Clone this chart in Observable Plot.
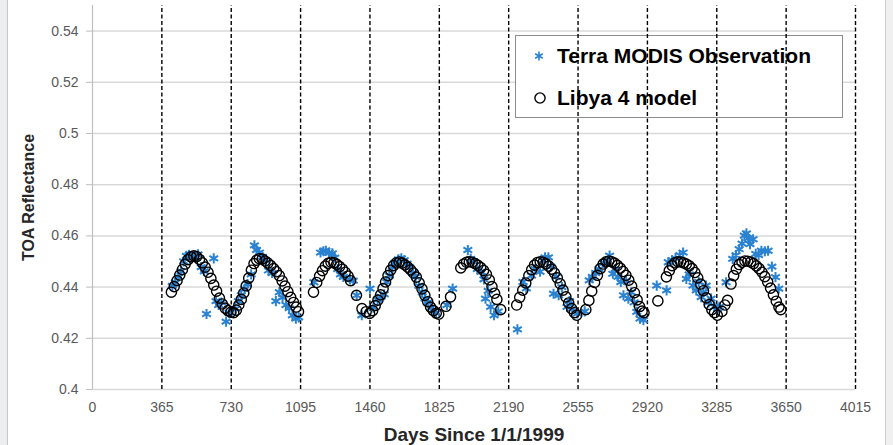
<!DOCTYPE html>
<html><head><meta charset="utf-8">
<script src="https://cdn.jsdelivr.net/npm/d3@7"></script>
<script src="https://cdn.jsdelivr.net/npm/@observablehq/plot@0.6"></script>
<style>
body{margin:0;background:#fff;}
#wrap{position:relative;width:893px;height:445px;overflow:hidden;background:#fff;}
#wrap svg{position:absolute;left:0;top:0;}
.bl{position:absolute;left:0;top:0;width:7px;height:445px;background:#eceef0;border-right:1px solid #c8c8c8;}
.br{position:absolute;left:885px;top:0;width:8px;height:445px;background:#f0f0f0;border-left:1px solid #cfcfcf;}
</style></head>
<body><div id="wrap"><div class="bl"></div><div class="br"></div></div>
<script>
const xTicks = [0,365,730,1095,1460,1825,2190,2555,2920,3285,3650,4015];
const yTicks = [0.4,0.42,0.44,0.46,0.48,0.5,0.52,0.54];
const seriesNames = ["Terra MODIS Observation","Libya 4 model"];
const xTitle = "Days Since 1/1/1999";
const yTitle = "TOA Reflectance";

const modelDays = [
 415,430,445,459,473,488,503,518,533,548,563,578,593,608,623,638,653,668,683,698,713,728,743,757,770,783,796,809,822,836,850,864,878,893,908,923,938,953,968,983,998,1013,1028,1043,1058,1072,1084,
 1163,1180,1195,1210,1225,1240,1255,1270,1285,1300,1315,1330,1345,1358,1389,1418,1440,1458,1474,1488,1502,1516,1529,1542,1555,1569,1584,1599,1614,1629,1644,1659,1674,1689,1704,1719,1734,1749,1764,1779,1794,1809,1822,
 1860,1884,1938,1953,1968,1983,1998,2013,2028,2043,2058,2073,2088,2102,2116,2128,2148,
 2232,2248,2264,2280,2296,2311,2326,2341,2356,2371,2386,2401,2416,2431,2446,2461,2476,2491,2506,2521,2536,2548,
 2596,2612,2627,2642,2657,2672,2687,2702,2717,2732,2747,2762,2777,2792,2807,2822,2837,2852,2866,2879,2892,2902,
 2975,3020,3035,3050,3065,3080,3095,3110,3125,3140,3155,3170,3185,3200,3215,3230,3245,3259,3273,3288,
 3312,3328,3342,3360,3374,3388,3403,3418,3433,3448,3463,3478,3493,3508,3523,3538,3553,3568,3583,3598,3612,3622];
const modelValues = [
 .4380,.4402,.4425,.4447,.4468,.4490,.4507,.4518,.4522,.4519,.4508,.4495,.4478,.4458,.4434,.4408,.4384,.4357,.4334,.4318,.4308,.4302,.4300,.4310,.4330,.4352,.4377,.4405,.4435,.4466,.4492,.4505,.4511,.4510,.4502,.4494,.4484,.4472,.4460,.4445,.4424,.4404,.4382,.4360,.4340,.4322,.4304,
 .4380,.4418,.4443,.4464,.4482,.4493,.4497,.4495,.4489,.4480,.4470,.4458,.4443,.4425,.4368,.4316,.4304,.4297,.4308,.4328,.4349,.4370,.4394,.4420,.4445,.4466,.4484,.4495,.4498,.4494,.4487,.4478,.4467,.4455,.4439,.4417,.4393,.4368,.4343,.4322,.4308,.4298,.4294,
 .4325,.4362,.4475,.4490,.4497,.4499,.4497,.4492,.4485,.4476,.4465,.4450,.4428,.4402,.4376,.4352,.4312,
 .4330,.4360,.4388,.4416,.4445,.4468,.4486,.4496,.4499,.4497,.4491,.4482,.4470,.4455,.4436,.4413,.4388,.4362,.4338,.4316,.4300,.4290,
 .4312,.4348,.4384,.4418,.4446,.4472,.4490,.4499,.4502,.4499,.4494,.4485,.4474,.4461,.4446,.4427,.4404,.4378,.4350,.4324,.4306,.4300,
 .4346,.4440,.4464,.4484,.4495,.4499,.4498,.4495,.4490,.4483,.4472,.4457,.4436,.4412,.4386,.4358,.4332,.4312,.4300,.4290,
 .4305,.4330,.4348,.4412,.4445,.4470,.4488,.4497,.4502,.4501,.4498,.4492,.4483,.4472,.4458,.4441,.4420,.4396,.4370,.4345,.4322,.4312];

const modisDays = [
 420,436,452,466,480,494,508,522,540,555,572,588,600,638,650,664,678,703,718,
 752,768,783,800,815,835,852,863,878,895,910,926,945,965,983,1000,1018,1035,1052,1070,1085,
 1165,1200,1215,1228,1245,1262,1275,1290,1305,1320,1355,1372,1390,1417,1460,1478,1500,1518,1535,1548,1562,1578,1592,1610,1625,1640,1655,1668,1685,1700,1718,1735,1750,1765,1780,1792,1808,
 1865,1895,1975,1990,2005,2025,2045,2060,2068,2082,2095,2113,2135,
 2236,2265,2283,2310,2330,2355,2370,2381,2399,2412,2426,2440,2453,2470,2497,2510,2524,2551,
 2590,2614,2630,2648,2665,2690,2706,2721,2738,2750,2765,2780,2794,2808,2820,2835,2850,2864,2881,2899,
 2969,3021,3030,3050,3068,3090,3108,3125,3140,3160,3177,3190,3203,3215,3229,3242,3255,3273,3290,3299,
 3334,3369,3386,3403,3418,3430,3441,3450,3460,3476,3490,3505,3520,3538,3555,3575,3594,3611];
const modisValues = [
 .4405,.4418,.4440,.4462,.4500,.4522,.4526,.4520,.4516,.4528,.4478,.4462,.4295,.4512,.4345,.4330,.4340,.4265,.4300,
 .4315,.4345,.4368,.4392,.4412,.4450,.4563,.4545,.4535,.4518,.4505,.4465,.4455,.4345,.4380,.4360,.4330,.4318,.4290,.4277,.4282,
 .4419,.4535,.4540,.4542,.4535,.4532,.4515,.4470,.4450,.4440,.4430,.4425,.4368,.4290,.4394,.4320,.4350,.4362,.4372,.4420,.4445,.4478,.4495,.4508,.4512,.4505,.4492,.4478,.4455,.4440,.4405,.4380,.4355,.4340,.4320,.4310,.4298,
 .4330,.4394,.4545,.4510,.4500,.4470,.4460,.4430,.4355,.4385,.4323,.4290,.4305,
 .4235,.4420,.4395,.4445,.4470,.4460,.4505,.4516,.4516,.4480,.4374,.4440,.4368,.4400,.4323,.4345,.4316,.4297,
 .4305,.4426,.4440,.4455,.4470,.4495,.4500,.4523,.4452,.4470,.4440,.4420,.4368,.4425,.4355,.4380,.4340,.4303,.4277,.4271,
 .4406,.4387,.4497,.4505,.4512,.4525,.4535,.4432,.4450,.4406,.4387,.4420,.4361,.4380,.4406,.4340,.4355,.4323,.4316,.4323,
 .4419,.4510,.4525,.4548,.4570,.4601,.4610,.4590,.4568,.4587,.4530,.4525,.4542,.4540,.4542,.4480,.4439,.4394];

const model = modelDays.map((d, i) => ({day: d, value: modelValues[i]}));
const modis = modisDays.map((d, i) => ({day: d, value: modisValues[i]}));

const blue = "#2a82d0";
const font = "'Liberation Sans', Arial, sans-serif";

const chart = Plot.plot({
  width: 893, height: 445,
  marginLeft: 92, marginRight: 38, marginTop: 5, marginBottom: 56,
  style: {fontFamily: font, fontSize: "14px", color: "#595959", background: "transparent", overflow: "visible"},
  x: {domain: [0, 4015]},
  y: {domain: [0.4, 0.55]},
  marks: [
    Plot.ruleY(yTicks, {stroke: "#d9d9d9", strokeWidth: 1.5}),
    Plot.ruleX([0], {stroke: "#bfbfbf", strokeWidth: 1.2}),
    Plot.axisY(yTicks, {tickSize: 6, tickPadding: 8, stroke: "#bfbfbf", fill: "#595959", tickFormat: d => String(d), label: null}),
    Plot.axisX(xTicks, {tickSize: 0, tickPadding: 13, fill: "#595959", tickFormat: d => String(d), label: null}),
    Plot.text([xTitle], {frameAnchor: "bottom", dy: 51, fontWeight: "bold", fontSize: 19, fill: "#262626"}),
    Plot.text([yTitle], {frameAnchor: "left", textAnchor: "middle", dx: -64, rotate: -90, fontWeight: "bold", fontSize: 16, fill: "#262626"}),
    Plot.ruleX(xTicks.slice(1), {y1: 0.4, y2: 0.55, stroke: "black", strokeWidth: 1.4, strokeDasharray: "4,2.5"}),
    Plot.dot(modis, {x: "day", y: "value", symbol: "asterisk", r: 4.8, stroke: blue, strokeWidth: 2}),
    Plot.dot(model, {x: "day", y: "value", r: 5.1, stroke: "black", strokeWidth: 1.4, fill: "none"})
  ]
});

// legend (white box beneath the dashed lines)
const rules = chart.querySelectorAll('g[aria-label="rule"]');
const dashed = rules[rules.length - 1];
const lg = d3.create("svg:g").attr("font-family", font).attr("font-weight", "bold")
  .attr("font-size", 21).attr("fill", "#000").attr("text-anchor", "start");
lg.append("rect").attr("x", 515.5).attr("y", 35.5).attr("width", 327).attr("height", 82)
  .attr("fill", "white").attr("stroke", "#8c8c8c").attr("stroke-width", 1);
lg.append("path").attr("transform", "translate(539,56)")
  .attr("d", d3.symbol(d3.symbolAsterisk, Math.PI * 4.2 * 4.2)())
  .attr("fill", "none").attr("stroke", blue).attr("stroke-width", 1.6);
lg.append("text").attr("x", 557).attr("y", 63).text(seriesNames[0]);
lg.append("circle").attr("cx", 540).attr("cy", 98).attr("r", 5.1)
  .attr("fill", "none").attr("stroke", "black").attr("stroke-width", 1.4);
lg.append("text").attr("x", 557).attr("y", 105).text(seriesNames[1]);
dashed.parentNode.insertBefore(lg.node(), dashed);

document.getElementById("wrap").prepend(chart);
</script>
</body></html>
